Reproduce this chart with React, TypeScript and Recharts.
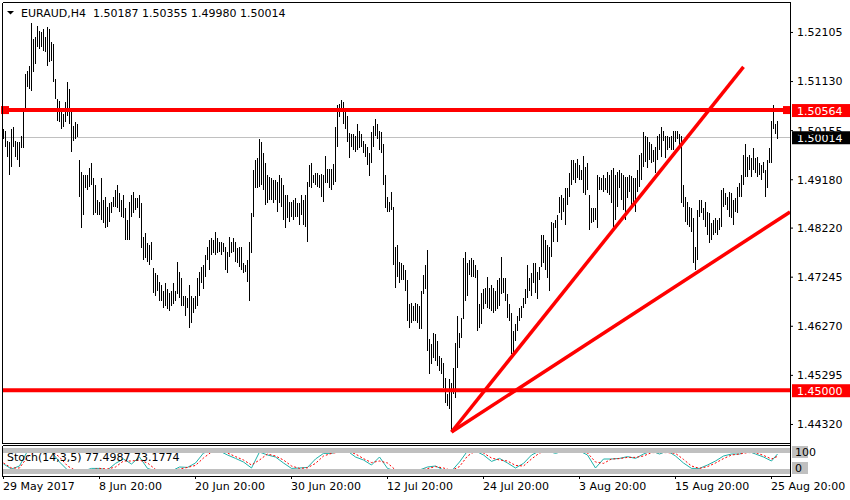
import React from 'react';
import { ComposedChart, Bar, Line, XAxis, YAxis, ReferenceLine, ReferenceArea, ReferenceDot } from 'recharts';

const FONT = "'DejaVu Sans', Verdana, sans-serif";

// ---- price bars (EURAUD H4), index = bar number ----
const highs = [
  1.5018, 1.5014, 1.4994, 1.4992, 1.5018, 1.5022, 1.4994, 1.4992, 1.4992, 1.5004,
  1.5054, 1.5128, 1.5134, 1.5144, 1.5230, 1.5198, 1.5202, 1.5224, 1.5214, 1.5212,
  1.5218, 1.5202, 1.5222, 1.5218, 1.5192, 1.5188, 1.5118, 1.5078, 1.5074, 1.5058,
  1.5048, 1.5072, 1.5112, 1.5098, 1.5052, 1.5024, 1.5032, 1.5028, 1.4958, 1.4934,
  1.4928, 1.4928, 1.4928, 1.4942, 1.4952, 1.4922, 1.4908, 1.4878, 1.4874, 1.4922,
  1.4878, 1.4884, 1.4864, 1.4872, 1.4874, 1.4884, 1.4898, 1.4908, 1.4892, 1.4878,
  1.4888, 1.4862, 1.4838, 1.4874, 1.4888, 1.4894, 1.4882, 1.4882, 1.4888, 1.4872,
  1.4804, 1.4812, 1.4792, 1.4788, 1.4794, 1.4742, 1.4732, 1.4728, 1.4714, 1.4708,
  1.4698, 1.4712, 1.4702, 1.4694, 1.4698, 1.4712, 1.4698, 1.4754, 1.4734, 1.4722,
  1.4688, 1.4688, 1.4684, 1.4708, 1.4688, 1.4684, 1.4688, 1.4722, 1.4734, 1.4744,
  1.4748, 1.4768, 1.4784, 1.4798, 1.4802, 1.4798, 1.4814, 1.4802, 1.4794, 1.4794,
  1.4792, 1.4784, 1.4774, 1.4804, 1.4794, 1.4802, 1.4794, 1.4782, 1.4784, 1.4784,
  1.4752, 1.4748, 1.4758, 1.4794, 1.4852, 1.4938, 1.4958, 1.4962, 1.4998, 1.4992,
  1.4972, 1.4952, 1.4928, 1.4924, 1.4922, 1.4918, 1.4918, 1.4914, 1.4928, 1.4922,
  1.4908, 1.4888, 1.4888, 1.4874, 1.4874, 1.4878, 1.4882, 1.4872, 1.4872, 1.4888,
  1.4878, 1.4888, 1.4914, 1.4948, 1.4952, 1.4928, 1.4932, 1.4932, 1.4928, 1.4930,
  1.4928, 1.4966, 1.4940, 1.4940, 1.4940, 1.4950, 1.5022, 1.5066, 1.5068, 1.5076,
  1.5072, 1.5054, 1.5044, 1.5010, 1.5008, 1.5008, 1.5004, 1.5028, 1.5014, 1.5008,
  1.4994, 1.4988, 1.4984, 1.4972, 1.5012, 1.5024, 1.5038, 1.5028, 1.5014, 1.5012,
  1.4988, 1.4928, 1.4884, 1.4874, 1.4894, 1.4864, 1.4784, 1.4788, 1.4754, 1.4752,
  1.4748, 1.4738, 1.4718, 1.4672, 1.4674, 1.4668, 1.4674, 1.4672, 1.4668, 1.4698,
  1.4728, 1.4748, 1.4778, 1.4602, 1.4592, 1.4614, 1.4612, 1.4598, 1.4568, 1.4564,
  1.4554, 1.4524, 1.4492, 1.4522, 1.4514, 1.4544, 1.4594, 1.4648, 1.4614, 1.4644,
  1.4762, 1.4774, 1.4752, 1.4758, 1.4762, 1.4758, 1.4748, 1.4738, 1.4672, 1.4694,
  1.4702, 1.4704, 1.4724, 1.4704, 1.4708, 1.4704, 1.4698, 1.4718, 1.4722, 1.4764,
  1.4722, 1.4722, 1.4692, 1.4672, 1.4654, 1.4618, 1.4632, 1.4648, 1.4664, 1.4668,
  1.4684, 1.4702, 1.4748, 1.4722, 1.4732, 1.4752, 1.4752, 1.4734, 1.4744, 1.4808,
  1.4808, 1.4798, 1.4788, 1.4784, 1.4834, 1.4832, 1.4838, 1.4848, 1.4884, 1.4888,
  1.4882, 1.4902, 1.4902, 1.4932, 1.4958, 1.4958, 1.4952, 1.4960, 1.4948, 1.4938,
  1.4966, 1.4944, 1.4952, 1.4888, 1.4862, 1.4862, 1.4862, 1.4928, 1.4924, 1.4922,
  1.4928, 1.4922, 1.4934, 1.4928, 1.4938, 1.4942, 1.4928, 1.4934, 1.4938, 1.4932,
  1.4928, 1.4924, 1.4924, 1.4928, 1.4926, 1.4922, 1.4922, 1.4938, 1.4968, 1.4972,
  1.5012, 1.5004, 1.5002, 1.4992, 1.4988, 1.4978, 1.4984, 1.5004, 1.5008, 1.5022,
  1.5014, 1.5004, 1.5004, 1.5002, 1.5004, 1.5014, 1.5014, 1.5014, 1.5008, 1.5004,
  1.4908, 1.4884, 1.4874, 1.4864, 1.4862, 1.4842, 1.4784, 1.4858, 1.4878, 1.4878,
  1.4862, 1.4874, 1.4854, 1.4852, 1.4832, 1.4838, 1.4842, 1.4838, 1.4842, 1.4898,
  1.4902, 1.4892, 1.4884, 1.4894, 1.4892, 1.4878, 1.4882, 1.4904, 1.4912, 1.4928,
  1.4968, 1.4988, 1.4964, 1.4968, 1.4962, 1.4982, 1.4962, 1.4964, 1.4952, 1.4948,
  1.4954, 1.4938, 1.4958, 1.4982, 1.5034, 1.5066, 1.5028, 1.50355,
];

const lows = [
  1.4998, 1.4984, 1.4964, 1.4928, 1.4944, 1.4984, 1.4964, 1.4958, 1.4944, 1.4982,
  1.4982, 1.5054, 1.5102, 1.5098, 1.5094, 1.5132, 1.5148, 1.5182, 1.5178, 1.5182,
  1.5174, 1.5172, 1.5144, 1.5152, 1.5154, 1.5112, 1.5078, 1.5034, 1.5032, 1.5018,
  1.5022, 1.5032, 1.5044, 1.5028, 1.4974, 1.4994, 1.4998, 1.5002, 1.4884, 1.4822,
  1.4848, 1.4902, 1.4898, 1.4904, 1.4908, 1.4848, 1.4852, 1.4848, 1.4848, 1.4838,
  1.4832, 1.4822, 1.4824, 1.4834, 1.4852, 1.4864, 1.4864, 1.4862, 1.4854, 1.4844,
  1.4842, 1.4798, 1.4798, 1.4798, 1.4844, 1.4852, 1.4858, 1.4862, 1.4842, 1.4782,
  1.4758, 1.4762, 1.4754, 1.4748, 1.4758, 1.4694, 1.4688, 1.4698, 1.4678, 1.4678,
  1.4664, 1.4668, 1.4662, 1.4658, 1.4668, 1.4672, 1.4678, 1.4692, 1.4684, 1.4668,
  1.4668, 1.4648, 1.4664, 1.4624, 1.4634, 1.4654, 1.4662, 1.4668, 1.4688, 1.4712,
  1.4702, 1.4724, 1.4758, 1.4738, 1.4768, 1.4772, 1.4768, 1.4772, 1.4774, 1.4768,
  1.4774, 1.4738, 1.4732, 1.4764, 1.4772, 1.4774, 1.4754, 1.4752, 1.4744, 1.4738,
  1.4732, 1.4734, 1.4714, 1.4678, 1.4772, 1.4844, 1.4902, 1.4902, 1.4904, 1.4908,
  1.4898, 1.4868, 1.4872, 1.4878, 1.4878, 1.4872, 1.4878, 1.4854, 1.4872, 1.4864,
  1.4838, 1.4822, 1.4842, 1.4834, 1.4844, 1.4838, 1.4844, 1.4844, 1.4828, 1.4848,
  1.4828, 1.4824, 1.4794, 1.4904, 1.4902, 1.4912, 1.4908, 1.4904, 1.4902, 1.4884,
  1.4874, 1.4912, 1.4912, 1.4902, 1.4898, 1.4908, 1.4914, 1.4984, 1.5042, 1.5052,
  1.5028, 1.5018, 1.4992, 1.4962, 1.4984, 1.4978, 1.4974, 1.4978, 1.4982, 1.4984,
  1.4972, 1.4964, 1.4948, 1.4926, 1.4952, 1.4984, 1.5004, 1.4998, 1.4978, 1.4972,
  1.4908, 1.4862, 1.4854, 1.4854, 1.4858, 1.4748, 1.4704, 1.4724, 1.4712, 1.4718,
  1.4718, 1.4698, 1.4638, 1.4624, 1.4634, 1.4638, 1.4638, 1.4634, 1.4622, 1.4622,
  1.4692, 1.4702, 1.4578, 1.4532, 1.4552, 1.4564, 1.4558, 1.4548, 1.4538, 1.4532,
  1.4504, 1.4474, 1.4468, 1.4462, 1.4417, 1.4492, 1.4484, 1.4544, 1.4584, 1.4604,
  1.4642, 1.4678, 1.4688, 1.4728, 1.4724, 1.4724, 1.4722, 1.4618, 1.4624, 1.4632,
  1.4662, 1.4672, 1.4664, 1.4662, 1.4658, 1.4654, 1.4658, 1.4662, 1.4668, 1.4692,
  1.4694, 1.4678, 1.4644, 1.4638, 1.4572, 1.4574, 1.4598, 1.4618, 1.4638, 1.4644,
  1.4664, 1.4672, 1.4684, 1.4698, 1.4688, 1.4712, 1.4694, 1.4682, 1.4718, 1.4744,
  1.4752, 1.4738, 1.4722, 1.4698, 1.4764, 1.4794, 1.4822, 1.4794, 1.4852, 1.4838,
  1.4854, 1.4828, 1.4868, 1.4884, 1.4908, 1.4918, 1.4912, 1.4922, 1.4918, 1.4918,
  1.4892, 1.4888, 1.4898, 1.4818, 1.4832, 1.4834, 1.4838, 1.4822, 1.4898, 1.4898,
  1.4894, 1.4898, 1.4892, 1.4888, 1.4872, 1.4824, 1.4838, 1.4864, 1.4902, 1.4878,
  1.4858, 1.4838, 1.4882, 1.4894, 1.4862, 1.4872, 1.4854, 1.4894, 1.4904, 1.4918,
  1.4944, 1.4954, 1.4942, 1.4958, 1.4952, 1.4954, 1.4932, 1.4958, 1.4978, 1.4964,
  1.4994, 1.4962, 1.4978, 1.4982, 1.4978, 1.4978, 1.4992, 1.4998, 1.4982, 1.4872,
  1.4864, 1.4834, 1.4828, 1.4824, 1.4814, 1.4752, 1.4738, 1.4758, 1.4844, 1.4852,
  1.4838, 1.4824, 1.4808, 1.4792, 1.4798, 1.4808, 1.4812, 1.4808, 1.4818, 1.4824,
  1.4864, 1.4868, 1.4858, 1.4844, 1.4842, 1.4828, 1.4854, 1.4852, 1.4884, 1.4884,
  1.4908, 1.4924, 1.4924, 1.4938, 1.4924, 1.4938, 1.4932, 1.4924, 1.4928, 1.4918,
  1.4932, 1.4884, 1.4902, 1.4952, 1.4952, 1.5018, 1.5008, 1.4998,
];

// ---- axes ----
const priceTicks = [1.52105, 1.5113, 1.50155, 1.4918, 1.4822, 1.47245, 1.4627, 1.45295, 1.4432];
const priceDomain = [1.43952, 1.5269];
const barDomain = [-0.25, 393.25];
const timeTickIndex = [0, 48, 96, 144, 192, 240, 288, 336, 384];
const timeTickLabels = [
  '29 May 2017', '8 Jun 20:00', '20 Jun 20:00', '30 Jun 20:00', '12 Jul 20:00',
  '24 Jul 20:00', '3 Aug 20:00', '15 Aug 20:00', '25 Aug 20:00',
];

// ---- drawn objects ----
const resistanceLevel = 1.50564;
const supportLevel = 1.45;
const lastPrice = 1.50014;
const resistanceHandles = [0.75, 391.75];
const trendLines = [
  { x1: 224, y1: 1.4417, x2: 370, y2: 1.5142 },
  { x1: 224, y1: 1.4417, x2: 393.25, y2: 1.4854 },
];

// ---- Stochastic (14,3,5) ----
const stochIndex = [
  0, 4, 8, 12, 16, 20, 24, 28, 32, 36,
  40, 44, 48, 52, 56, 60, 64, 68, 72, 76,
  80, 84, 88, 92, 96, 100, 104, 108, 112, 116,
  120, 124, 128, 132, 136, 140, 144, 148, 152, 156,
  160, 164, 168, 172, 176, 180, 184, 188, 192, 196,
  200, 204, 208, 212, 216, 220, 224, 228, 232, 236,
  240, 244, 248, 252, 256, 260, 264, 268, 272, 276,
  280, 284, 288, 292, 296, 300, 304, 308, 312, 316,
  320, 324, 328, 332, 336, 340, 344, 348, 352, 356,
  360, 364, 368, 372, 376, 380, 384, 387,
];
const stochMain = [
  35, 10, 25, 100, 100, 100, 95, 45, 5, 0,
  0, 13, 13, 5, 38, 60, 35, 70, 13, 0,
  0, 0, 20, 18, 40, 90, 100, 100, 80, 63,
  45, 15, 95, 80, 70, 40, 13, 15, 18, 60,
  88, 88, 100, 100, 70, 55, 30, 70, 13, 0,
  0, 0, 5, 20, 25, 5, 0, 45, 100, 100,
  80, 48, 63, 40, 15, 38, 80, 100, 100, 88,
  100, 100, 100, 80, 15, 60, 60, 63, 72, 63,
  85, 100, 85, 100, 75, 40, 13, 13, 30, 50,
  75, 85, 85, 100, 85, 70, 50, 85,
];
const stochSignal = [
  40, 15, 15, 70, 100, 100, 100, 70, 25, 3,
  0, 5, 13, 10, 20, 50, 50, 55, 40, 8,
  0, 0, 10, 18, 28, 65, 95, 100, 90, 72,
  55, 30, 55, 85, 75, 55, 25, 13, 16, 38,
  75, 88, 95, 100, 85, 62, 42, 50, 40, 5,
  0, 0, 3, 12, 22, 15, 3, 22, 75, 100,
  90, 65, 55, 50, 28, 25, 60, 90, 100, 95,
  95, 100, 100, 90, 45, 38, 60, 62, 68, 68,
  75, 92, 92, 92, 88, 58, 25, 13, 22, 40,
  62, 80, 85, 92, 92, 78, 60, 73,
];
const stochDomain = [-25, 125];

const bars = highs.map((h, i) => ({ i, range: [lows[i], h] }));
const stoch = stochIndex.map((i, k) => ({ i, k: stochMain[k], d: stochSignal[k] }));

const PriceTag = (props: any) => {
  const { viewBox, value, bg, dyBox } = props;
  if (!viewBox) return null;
  const x = viewBox.x + viewBox.width + 2;
  const y = viewBox.y;
  return (
    <g>
      <rect x={x} y={y - 6.5 + (dyBox || 0)} width={60} height={13} fill={bg} />
      <text x={x + 5} y={y + 4 + (dyBox || 0)} fill="#fff" fontSize={11} fontFamily={FONT}>
        {value.toFixed(5)}
      </text>
    </g>
  );
};

const OhlcStick = (props: any) => {
  const { x, y, width, height } = props;
  if (x == null || y == null) return null;
  const cx = Math.round(x + width / 2 - 0.5);
  return <rect x={cx} y={y} width={1} height={Math.max(height, 1)} fill="#000" shapeRendering="crispEdges" />;
};

const TimeTick = (props: any) => {
  const { x, y, payload } = props;
  const k = timeTickIndex.indexOf(payload.value);
  return (
    <text x={x - 0.5} y={y} dy="0.71em" textAnchor="start" fontSize={11} fontFamily={FONT} fill="#000">
      {k >= 0 ? timeTickLabels[k] : ''}
    </text>
  );
};

const StochTick = (props: any) => {
  const { x, y, payload } = props;
  const top = payload.value === 100;
  const cy = top ? y + 1 : y - 3;
  return (
    <g>
      <rect x={x + 2} y={cy - 6} width={16} height={12} fill="#C0C0C0" />
      <text x={x + 5} y={cy + 4} fontSize={11} fontFamily={FONT} fill="#000">
        {payload.value}
      </text>
    </g>
  );
};

export default function App() {
  return (
    <div style={{ position: 'absolute', left: 0, top: 0, width: 850, height: 500, background: '#fff', overflow: 'hidden' }}>
      <div style={{ position: 'absolute', left: 0, top: 0 }}>
        <ComposedChart width={850} height={444} data={bars} margin={{ top: 3, right: 0, left: 3, bottom: 1 }}>
          <XAxis type="number" dataKey="i" domain={barDomain} hide allowDataOverflow />
          <YAxis
            orientation="right"
            width={60}
            domain={priceDomain}
            ticks={priceTicks}
            allowDataOverflow
            axisLine={false}
            tickLine={{ stroke: '#000' }}
            tickSize={3}
            tickMargin={4}
            interval={0}
            tick={{ fontSize: 11, fontFamily: FONT, fill: '#000' }}
            tickFormatter={(v: number) => v.toFixed(5)}
          />
          <ReferenceLine y={lastPrice} stroke="#C0C0C0" strokeWidth={1} zIndex={250} shapeRendering="crispEdges"
            label={(p: any) => <PriceTag {...p} value={lastPrice} bg="#000" />} />
          <Bar dataKey="range" fill="#000" barSize={1} isAnimationActive={false} shape={<OhlcStick />} />
          <ReferenceLine y={resistanceLevel} stroke="#FF0000" strokeWidth={4} zIndex={450}
            label={(p: any) => <PriceTag {...p} value={resistanceLevel} bg="#FF0000" dyBox={0.5} />} />
          <ReferenceLine y={supportLevel} stroke="#FF0000" strokeWidth={4} zIndex={450}
            label={(p: any) => <PriceTag {...p} value={supportLevel} bg="#FF0000" dyBox={0.5} />} />
          {trendLines.map((t, k) => (
            <ReferenceLine key={k} zIndex={450} stroke="#FF0000" strokeWidth={3.5}
              segment={[{ x: t.x1, y: t.y1 }, { x: t.x2, y: t.y2 }]} />
          ))}
          {resistanceHandles.map((x, k) => (
            <ReferenceDot key={k} x={x} y={resistanceLevel} ifOverflow="visible" zIndex={460}
              shape={(p: any) => <rect x={p.cx - 4} y={p.cy - 4} width={8} height={8} fill="#FF0000" />} />
          ))}
        </ComposedChart>
      </div>

      <div style={{ position: 'absolute', left: 0, top: 444 }}>
        <ComposedChart width={850} height={56} data={stoch} margin={{ top: 2, right: 0, left: 3, bottom: 0 }}>
          <XAxis
            type="number"
            dataKey="i"
            domain={barDomain}
            allowDataOverflow
            ticks={timeTickIndex}
            interval={0}
            height={24}
            axisLine={false}
            tickLine={{ stroke: '#000' }}
            tickSize={3}
            tickMargin={3}
            tick={<TimeTick />}
          />
          <YAxis
            orientation="right"
            width={60}
            domain={stochDomain}
            ticks={[0, 100]}
            allowDataOverflow
            axisLine={false}
            tickLine={false}
            tickSize={0}
            tickMargin={0}
            interval={0}
            tick={<StochTick />}
          />
          <Line dataKey="k" stroke="#20B2AA" strokeWidth={1} dot={false} isAnimationActive={false} />
          <Line dataKey="d" stroke="#FF0000" strokeWidth={1} strokeDasharray="2 2" dot={false} isAnimationActive={false} />
          <ReferenceArea y1={90} y2={115} fill="#C0C0C0" fillOpacity={1} stroke="none" zIndex={450} ifOverflow="visible" />
          <ReferenceArea y1={-15} y2={10} fill="#C0C0C0" fillOpacity={1} stroke="none" zIndex={450} ifOverflow="visible" />
        </ComposedChart>
      </div>

      <svg width={850} height={500} style={{ position: 'absolute', left: 0, top: 0, pointerEvents: 'none' }}>
        <g stroke="#000" strokeWidth={1} shapeRendering="crispEdges" fill="none">
          <line x1={2.5} y1={2.5} x2={790.5} y2={2.5} />
          <line x1={2.5} y1={2.5} x2={2.5} y2={443.5} />
          <line x1={2.5} y1={443.5} x2={790.5} y2={443.5} />
          <line x1={2.5} y1={445.5} x2={790.5} y2={445.5} />
          <line x1={2.5} y1={445.5} x2={2.5} y2={476.5} />
          <line x1={2.5} y1={476.5} x2={790.5} y2={476.5} />
          <line x1={790.5} y1={2.5} x2={790.5} y2={476.5} />
        </g>
        <polygon points="7,11 14,11 10.5,14.5" fill="#000" />
        <text x={21} y={16.5} fontSize={11} fontFamily={FONT} fill="#000" style={{ whiteSpace: 'pre' }}>
          {'EURAUD,H4  1.50187 1.50355 1.49980 1.50014'}
        </text>
        <text x={7} y={461} fontSize={11} fontFamily={FONT} fill="#000">
          {'Stoch(14,3,5) 77.4987 73.1774'}
        </text>
      </svg>
    </div>
  );
}
